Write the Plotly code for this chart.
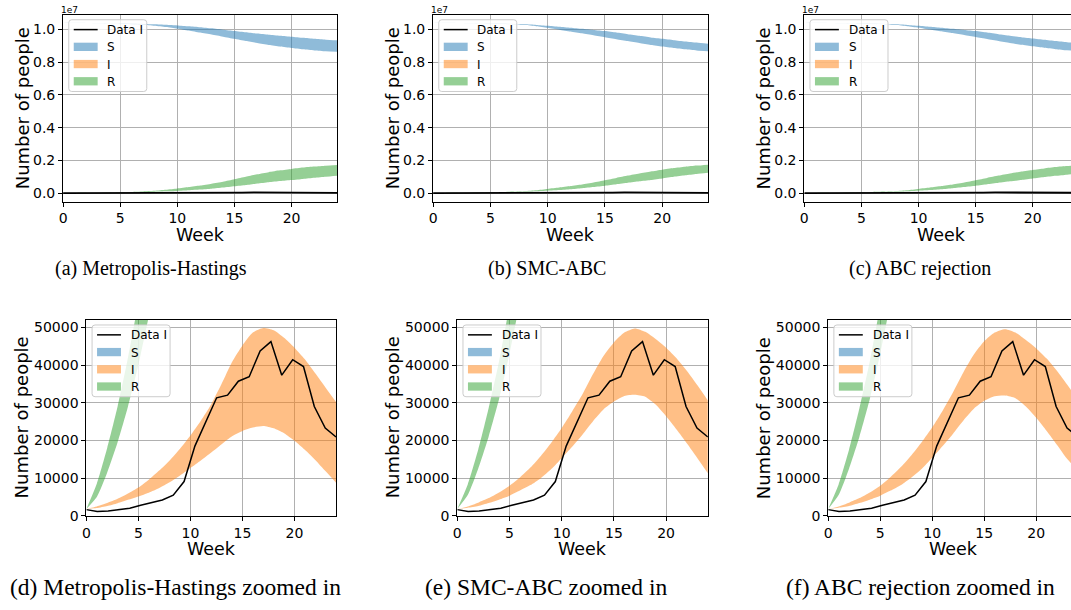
import plotly.graph_objects as go

W, H = 1071, 610

# ---------------------------------------------------------------- data
WEEKS = list(range(25))

# observed weekly infected counts (24 observations spread over 0..24 weeks)
DATA_WEEKS = [0.0, 1.04, 2.09, 3.13, 4.17, 5.22, 6.26, 7.30, 8.35, 9.39, 10.43, 11.48,
              12.52, 13.57, 14.61, 15.65, 16.70, 17.74, 18.78, 19.83, 20.87, 21.91, 22.96, 24.0]
DATA_I = [1650, 1150, 1300, 1600, 2000, 2800, 3500, 4200, 5500, 9100, 18500, 25000,
          31300, 32000, 35700, 36900, 43700, 46200, 37300, 41400, 39600, 29000, 23300, 20900]

# Metropolis-Hastings posterior bands
MH_S_LO = [10.40e6, 10.39e6, 10.38e6, 10.365e6, 10.35e6, 10.325e6, 10.30e6, 10.265e6, 10.22e6,
           10.14e6, 10.04e6, 9.93e6, 9.80e6, 9.68e6, 9.55e6, 9.42e6, 9.28e6, 9.16e6, 9.05e6,
           8.95e6, 8.86e6, 8.78e6, 8.71e6, 8.66e6, 8.63e6]
MH_S_HI = [10.40e6, 10.395e6, 10.39e6, 10.385e6, 10.375e6, 10.365e6, 10.35e6, 10.33e6, 10.31e6,
           10.28e6, 10.24e6, 10.19e6, 10.13e6, 10.06e6, 9.98e6, 9.90e6, 9.82e6, 9.74e6, 9.67e6,
           9.61e6, 9.55e6, 9.48e6, 9.42e6, 9.37e6, 9.33e6]
MH_I_LO = [1840, 2050, 2600, 3350, 4250, 5150, 6150, 7400, 8900, 10700, 12700, 14700, 16800,
           19000, 21100, 22500, 23400, 23800, 23200, 21900, 19900, 17500, 14800, 11800, 8800]
MH_I_HI = [1840, 2500, 3400, 4500, 5900, 7500, 9600, 12000, 14700, 17800, 21300, 25200, 29600,
           35000, 40800, 45200, 48600, 49800, 49200, 47200, 44600, 41500, 37800, 34000, 30200]
MH_R_LO = [1840, 5000, 11500, 19500, 29000, 40000, 53000, 68000, 86000, 108000, 135000, 170000,
           215000, 270000, 340000, 420000, 500000, 590000, 670000, 740000, 800000, 870000,
           940000, 1000000, 1060000]
MH_R_HI = [1840, 8500, 18000, 29000, 42000, 57000, 75000, 100000, 140000, 200000, 280000,
           370000, 470000, 580000, 700000, 850000, 1000000, 1150000, 1280000, 1390000, 1480000,
           1560000, 1620000, 1670000, 1710000]

# SMC-ABC posterior bands
SMC_S_LO = [10.40e6, 10.392e6, 10.383e6, 10.372e6, 10.36e6, 10.345e6, 10.325e6, 10.30e6, 10.26e6,
            10.19e6, 10.09e6, 9.98e6, 9.87e6, 9.76e6, 9.64e6, 9.52e6, 9.40e6, 9.28e6, 9.16e6,
            9.05e6, 8.95e6, 8.86e6, 8.78e6, 8.71e6, 8.66e6]
SMC_S_HI = [10.40e6, 10.395e6, 10.39e6, 10.383e6, 10.374e6, 10.363e6, 10.348e6, 10.33e6, 10.305e6,
            10.27e6, 10.22e6, 10.16e6, 10.10e6, 10.03e6, 9.96e6, 9.89e6, 9.80e6, 9.70e6, 9.60e6,
            9.50e6, 9.42e6, 9.34e6, 9.26e6, 9.19e6, 9.12e6]
SMC_I_LO = [1840, 2150, 2600, 3400, 4300, 5350, 6700, 8150, 10000, 12400, 15300, 18300, 21600,
            25100, 28200, 30300, 31800, 32100, 31600, 29500, 26400, 22900, 19200, 15300, 11300]
SMC_I_HI = [1840, 2500, 3500, 4700, 6200, 8000, 10200, 12800, 15900, 19400, 23300, 27700, 32300,
            37600, 42400, 46000, 48600, 49700, 48800, 46900, 44600, 41800, 38400, 34600, 30600]
SMC_R_LO = [1840, 5500, 12500, 21000, 31000, 43000, 57000, 74000, 95000, 120000, 150000, 190000,
            240000, 300000, 370000, 450000, 540000, 630000, 720000, 800000, 900000, 1000000,
            1090000, 1170000, 1240000]
SMC_R_HI = [1840, 8300, 17500, 28500, 41000, 56000, 74000, 97000, 130000, 180000, 260000, 340000,
            430000, 530000, 650000, 790000, 930000, 1070000, 1200000, 1320000, 1430000, 1530000,
            1610000, 1680000, 1740000]

# ABC rejection posterior bands
ABC_S_LO = [10.40e6, 10.392e6, 10.383e6, 10.372e6, 10.36e6, 10.345e6, 10.325e6, 10.30e6, 10.26e6,
            10.19e6, 10.10e6, 9.99e6, 9.88e6, 9.77e6, 9.65e6, 9.53e6, 9.41e6, 9.29e6, 9.17e6,
            9.06e6, 8.96e6, 8.87e6, 8.79e6, 8.72e6, 8.67e6]
ABC_S_HI = [10.40e6, 10.395e6, 10.39e6, 10.383e6, 10.374e6, 10.363e6, 10.348e6, 10.33e6, 10.305e6,
            10.27e6, 10.22e6, 10.16e6, 10.10e6, 10.03e6, 9.96e6, 9.89e6, 9.80e6, 9.70e6, 9.61e6,
            9.52e6, 9.44e6, 9.36e6, 9.28e6, 9.21e6, 9.15e6]
ABC_I_LO = [1840, 2150, 2600, 3400, 4300, 5350, 6700, 8200, 10200, 12500, 15400, 18500, 21800,
            25300, 28400, 30500, 31700, 31900, 31200, 29000, 26000, 22500, 18800, 15000, 12000]
ABC_I_HI = [1840, 2500, 3500, 4700, 6200, 8000, 10300, 13000, 16100, 19600, 23500, 27900, 32800,
            38100, 42800, 46300, 48600, 49500, 48600, 46600, 44400, 41700, 38400, 34700, 30800]
ABC_R_LO = [1840, 5500, 12500, 21000, 31000, 43000, 57000, 74000, 95000, 120000, 150000, 190000,
            240000, 300000, 370000, 450000, 540000, 630000, 720000, 800000, 890000, 980000,
            1060000, 1130000, 1200000]
ABC_R_HI = [1840, 8300, 17500, 28500, 41000, 56000, 74000, 97000, 130000, 180000, 260000, 340000,
            430000, 530000, 650000, 790000, 930000, 1070000, 1200000, 1320000, 1420000, 1510000,
            1590000, 1650000, 1700000]

METHODS = [
    ("Metropolis-Hastings", MH_S_LO, MH_S_HI, MH_I_LO, MH_I_HI, MH_R_LO, MH_R_HI),
    ("SMC-ABC", SMC_S_LO, SMC_S_HI, SMC_I_LO, SMC_I_HI, SMC_R_LO, SMC_R_HI),
    ("ABC rejection", ABC_S_LO, ABC_S_HI, ABC_I_LO, ABC_I_HI, ABC_R_LO, ABC_R_HI),
]

TOP_TICKS = [0, 2e6, 4e6, 6e6, 8e6, 1e7]
TOP_TICKTEXT = ["0.0", "0.2", "0.4", "0.6", "0.8", "1.0"]
ZOOM_TICKS = [0, 10000, 20000, 30000, 40000, 50000]
ZOOM_TICKTEXT = ["0", "10000", "20000", "30000", "40000", "50000"]
X_TICKS = [0, 5, 10, 15, 20]
LEGEND_LABELS = ["Data I", "S", "I", "R"]

# ---------------------------------------------------------------- styling
S_FILL = "rgba(31,119,180,0.5)"
I_FILL = "rgba(255,127,14,0.5)"
R_FILL = "rgba(44,160,44,0.5)"
SANS = "DejaVu Sans"
SERIF = "Liberation Serif"

# panel geometry in page pixels: (method, zoomed, left, full width, top, bottom)
PANELS = [
    (0, False, 59.3, 275.2, 14.7, 204.3),
    (1, False, 430.7, 276.0, 14.7, 204.3),
    (2, False, 803.3, 275.2, 14.7, 204.3),
    (0, True, 82.7, 250.6, 324.0, 522.7),
    (1, True, 455.0, 251.5, 324.0, 522.7),
    (2, True, 827.3, 250.6, 324.0, 522.7),
]
CAPTIONS = [
    ("(a) Metropolis-Hastings", 148, 272, 20),
    ("(b) SMC-ABC", 545, 272, 20),
    ("(c) ABC rejection", 919, 272, 20),
    ("(d) Metropolis-Hastings zoomed in", 172, 595, 23.5),
    ("(e) SMC-ABC zoomed in", 544, 595, 23.5),
    ("(f) ABC rejection zoomed in", 920, 595, 23.5),
]

fig = go.Figure()
annotations = []
shapes = []
layout = {}


def px(x, y):
    return x / W, 1 - y / H


def band(lo, hi, color, xa, ya):
    fig.add_trace(go.Scatter(x=WEEKS, y=lo, mode="lines",
                             line=dict(width=0, shape="spline", smoothing=0.6),
                             hoverinfo="skip", xaxis=xa, yaxis=ya))
    fig.add_trace(go.Scatter(x=WEEKS, y=hi, mode="lines",
                             line=dict(width=0, shape="spline", smoothing=0.6),
                             fill="tonexty", fillcolor=color,
                             hoverinfo="skip", xaxis=xa, yaxis=ya))


def legend_box(left, top):
    """Rounded legend frame with line / patch keys in the panel's upper-left corner."""
    x0, x1 = left + 5.7, left + 84.0
    y0, y1 = top + 5.3, top + 78.0
    r = 3.0
    pts = [
        ("M", x0 + r, y0), ("L", x1 - r, y0), ("Q", x1, y0, x1, y0 + r),
        ("L", x1, y1 - r), ("Q", x1, y1, x1 - r, y1), ("L", x0 + r, y1),
        ("Q", x0, y1, x0, y1 - r), ("L", x0, y0 + r), ("Q", x0, y0, x0 + r, y0),
    ]
    path = ""
    for p in pts:
        cmd, coords = p[0], p[1:]
        xy = []
        for i in range(0, len(coords), 2):
            fx, fy = px(coords[i], coords[i + 1])
            xy.append(f"{fx:.6f},{fy:.6f}")
        path += cmd + " ".join(xy) + " "
    shapes.append(dict(type="path", path=path + "Z", xref="paper", yref="paper", layer="above",
                       fillcolor="rgba(255,255,255,0.8)", line=dict(color="#cccccc", width=1)))
    keys = [None, S_FILL, I_FILL, R_FILL]
    for row, (label, key) in enumerate(zip(LEGEND_LABELS, keys)):
        cy = top + 15.3 + row * 17.45
        kx0, kx1 = left + 10.7, left + 34.7
        if key is None:
            a, b = px(kx0, cy)
            c, d = px(kx1, cy)
            shapes.append(dict(type="line", x0=a, y0=b, x1=c, y1=d, xref="paper", yref="paper",
                               layer="above", line=dict(color="black", width=1.5)))
        else:
            a, b = px(kx0, cy + 4.2)
            c, d = px(kx1, cy - 4.2)
            shapes.append(dict(type="rect", x0=a, y0=b, x1=c, y1=d, xref="paper", yref="paper",
                               layer="above", fillcolor=key, line=dict(width=0)))
        tx, ty = px(left + 43.5, cy + 0.5)
        annotations.append(dict(text=label, x=tx, y=ty, xref="paper", yref="paper",
                                showarrow=False, xanchor="left", yanchor="middle", borderpad=0,
                                font=dict(family=SANS, size=12, color="black")))


for n, (m, zoomed, left, fullw, top, bottom) in enumerate(PANELS, start=1):
    name, s_lo, s_hi, i_lo, i_hi, r_lo, r_hi = METHODS[m]
    xa, ya = f"x{n}", f"y{n}"
    right = min(left + fullw, W)
    xmax = 24 * (right - left) / fullw
    clipped = left + fullw > W

    band(s_lo, s_hi, S_FILL, xa, ya)
    band(i_lo, i_hi, I_FILL, xa, ya)
    band(r_lo, r_hi, R_FILL, xa, ya)
    fig.add_trace(go.Scatter(x=DATA_WEEKS, y=DATA_I, mode="lines", name="Data I",
                             line=dict(color="black", width=1.5 if zoomed else 1.8),
                             xaxis=xa, yaxis=ya))

    axis_common = dict(showline=True, linecolor="black", linewidth=1, ticks="outside",
                       ticklen=4, tickwidth=1, tickcolor="black", showgrid=True,
                       gridcolor="#b0b0b0", gridwidth=1, zeroline=False,
                       tickfont=dict(family=SANS, size=14, color="black"))
    layout[f"xaxis{n}"] = dict(domain=[left / W, right / W], range=[0, xmax], anchor=ya,
                               tickvals=X_TICKS, mirror=True, ticklabelstandoff=0, **axis_common)
    if zoomed:
        yr, tv, tt = [0, 52000], ZOOM_TICKS, ZOOM_TICKTEXT
    else:
        yr, tv, tt = [-0.0518e7, 1.0904e7], TOP_TICKS, TOP_TICKTEXT
    layout[f"yaxis{n}"] = dict(domain=[1 - bottom / H, 1 - top / H], range=yr, anchor=xa,
                               tickvals=tv, ticktext=tt, mirror=not clipped, **axis_common)

    legend_box(left, top)

    # axis labels
    wx, wy = px(left + fullw / 2, 238 if not zoomed else 555.5)
    annotations.append(dict(text="Week", x=wx, y=wy, xref="paper", yref="paper", height=15,
                            valign="middle", showarrow=False, xanchor="center", yanchor="middle",
                            borderpad=0, font=dict(family=SANS, size=17.5, color="black")))
    nx, ny = px(left - (41 if not zoomed else 65), (top + bottom) / 2)
    annotations.append(dict(text="Number of people", x=nx, y=ny, xref="paper", yref="paper",
                            showarrow=False, textangle=-90, xanchor="center", yanchor="middle",
                            font=dict(family=SANS, size=18, color="black")))
    if not zoomed:
        ox, oy = px(left - 3, 10)
        annotations.append(dict(text="1e7", x=ox, y=oy, xref="paper", yref="paper",
                                showarrow=False, xanchor="left", yanchor="middle", borderpad=0,
                                font=dict(family=SANS, size=9, color="black")))

for text, cx, cy, size in CAPTIONS:
    fx, fy = px(cx, cy)
    annotations.append(dict(text=text, x=fx, y=fy, xref="paper", yref="paper",
                            showarrow=False, xanchor="center", yanchor="middle",
                            font=dict(family=SERIF, size=size, color="black")))

fig.update_layout(width=W, height=H, margin=dict(l=0, r=0, t=0, b=0), showlegend=False,
                  paper_bgcolor="white", plot_bgcolor="white", annotations=annotations,
                  shapes=shapes, **layout)

fig.write_html("out.html")
